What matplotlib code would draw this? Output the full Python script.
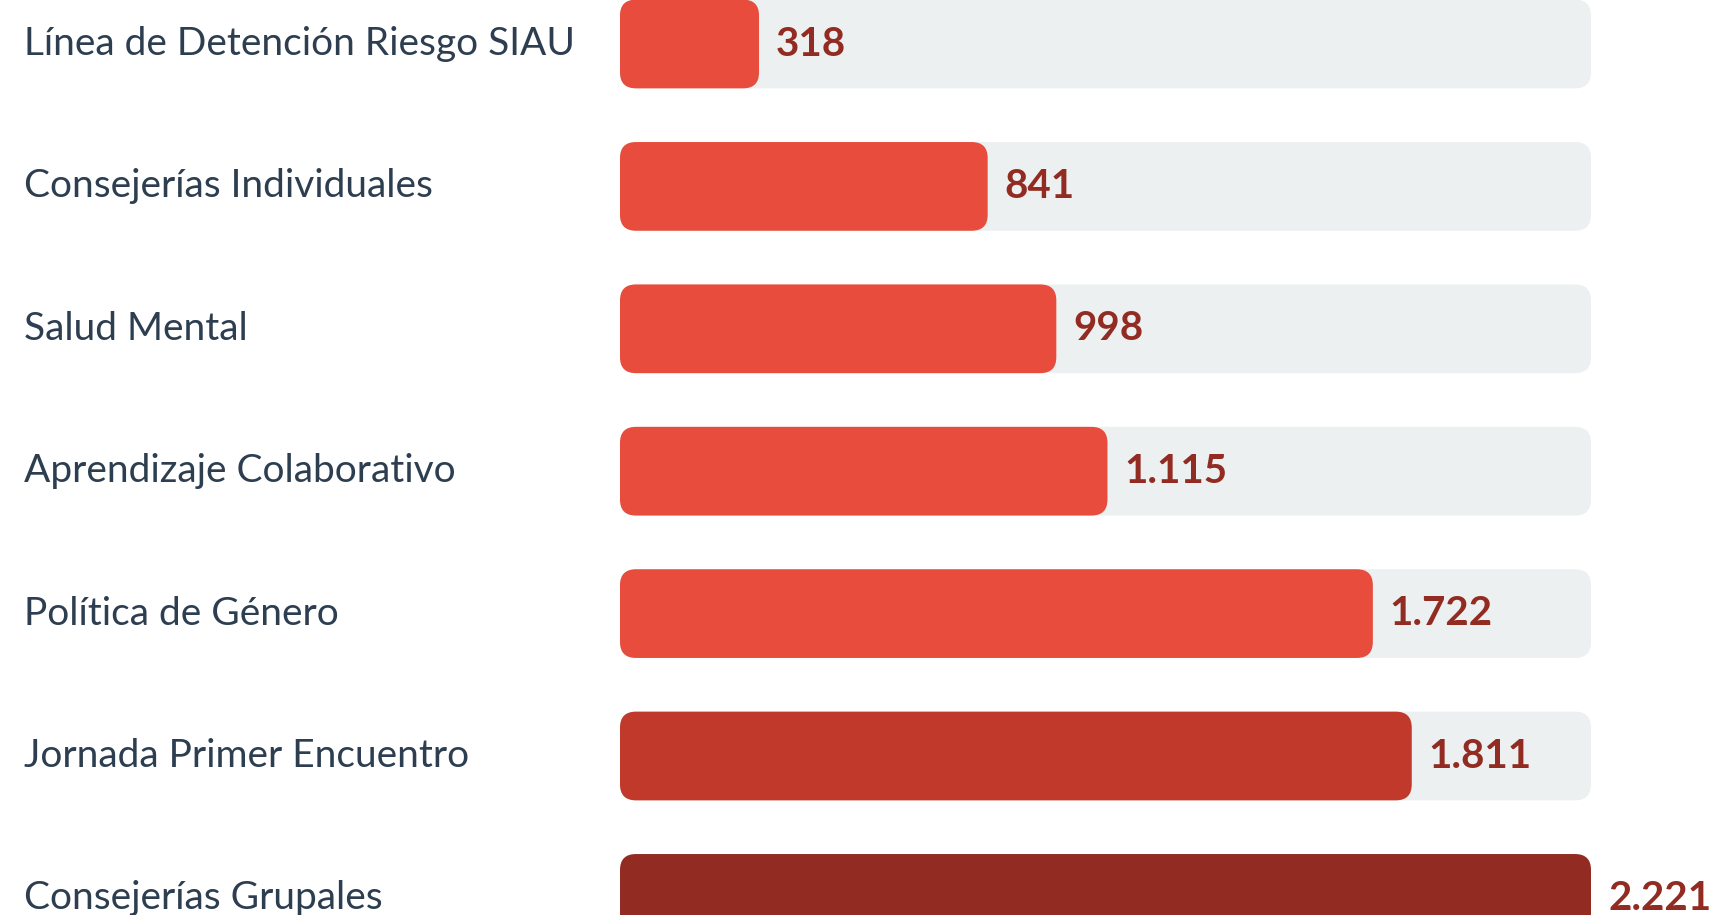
import matplotlib
matplotlib.use("Agg")
import matplotlib.pyplot as plt
from matplotlib.patches import FancyBboxPatch

# Datos
categorias = [
    "Línea de Detención Riesgo SIAU",
    "Consejerías Individuales",
    "Salud Mental",
    "Aprendizaje Colaborativo",
    "Política de Género",
    "Jornada Primer Encuentro",
    "Consejerías Grupales",
]
valores = [318, 841, 998, 1115, 1722, 1811, 2221]
colores = ["#E74C3C", "#E74C3C", "#E74C3C", "#E74C3C", "#E74C3C", "#C0392B", "#922B21"]

plt.rcParams['font.family'] = ['Lato', 'DejaVu Sans']

W, H = 1718, 915
fig = plt.figure(figsize=(W / 100, H / 100), dpi=100)

# zone des barres (en pixels)
x0_px, x1_px = 620, 1591
pas_px = 142.4
centre0_px = 44
haut_barre = 0.623

ax = fig.add_axes([x0_px / W, 0, (x1_px - x0_px) / W, 1])
vmax = max(valores)
ax.set_xlim(0, vmax)
ax.set_ylim((H - centre0_px) / pas_px, -centre0_px / pas_px)
ax.axis('off')

# rapport d'aspect pour arrondir les coins
x_par_px = vmax / (x1_px - x0_px)
y_par_px = 1 / pas_px
aspect = y_par_px / x_par_px
rayon = 16 * x_par_px

for i, (cat, v, c) in enumerate(zip(categorias, valores, colores)):
    y = i - haut_barre / 2
    fond = FancyBboxPatch((0, y), vmax, haut_barre,
                          boxstyle="round,pad=0,rounding_size={}".format(rayon),
                          mutation_aspect=aspect, fc="#ECF0F1", ec="none")
    ax.add_patch(fond)
    barre = FancyBboxPatch((0, y), v, haut_barre,
                           boxstyle="round,pad=0,rounding_size={}".format(rayon),
                           mutation_aspect=aspect, fc=c, ec="none")
    ax.add_patch(barre)
    txt = "{:,}".format(v).replace(",", ".")
    ax.text(v + 17 * x_par_px, i, txt, va='center', ha='left',
            fontsize=29, fontweight='bold', color="#922B21", clip_on=False)
    ax.text(-(x0_px - 24) * x_par_px, i, cat, va='center', ha='left',
            fontsize=28, color="#2C3E50", clip_on=False)

fig.savefig("out.png", dpi=100)
